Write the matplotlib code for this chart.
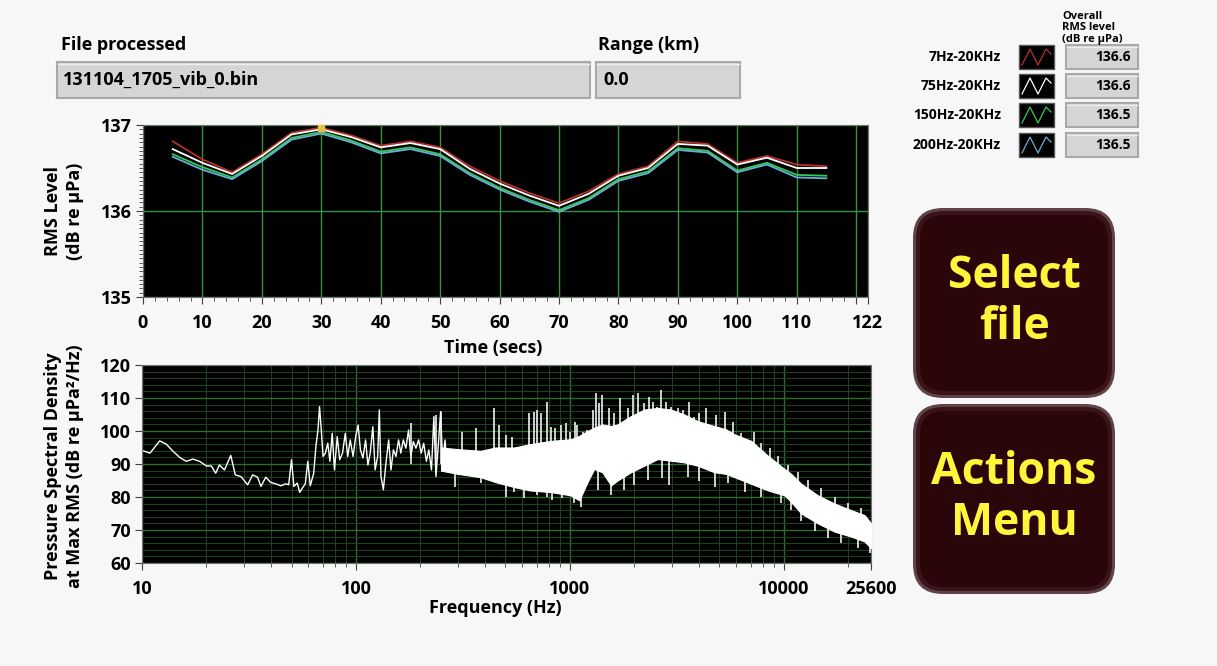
import numpy as np
import matplotlib
matplotlib.use("Agg")
import matplotlib.pyplot as plt
from matplotlib.patches import Rectangle, FancyBboxPatch
from matplotlib.ticker import MultipleLocator, FixedLocator, LogLocator, NullFormatter

plt.rcParams['font.family'] = ['Open Sans', 'DejaVu Sans']
plt.rcParams['font.weight'] = 'bold'

# --- RMS level vs time (top plot) ---
time_s = [5, 10, 15, 20, 25, 30, 35, 40, 45, 50, 55, 60, 65, 70, 75, 80, 85, 90, 95, 100, 105, 110, 115]
rms_7hz = [136.81, 136.60, 136.45, 136.66, 136.91, 136.97, 136.88, 136.76, 136.81, 136.74, 136.52, 136.35,
           136.21, 136.09, 136.23, 136.43, 136.52, 136.81, 136.78, 136.56, 136.64, 136.54, 136.52]
rms_75hz = [136.72, 136.56, 136.43, 136.64, 136.89, 136.95, 136.86, 136.74, 136.79, 136.72, 136.49, 136.32,
            136.18, 136.06, 136.20, 136.41, 136.50, 136.78, 136.76, 136.54, 136.62, 136.50, 136.50]
rms_150hz = [136.66, 136.51, 136.39, 136.60, 136.85, 136.92, 136.82, 136.69, 136.74, 136.66, 136.44, 136.27,
             136.13, 136.01, 136.15, 136.37, 136.46, 136.73, 136.70, 136.47, 136.56, 136.42, 136.41]
rms_200hz = [136.63, 136.48, 136.37, 136.58, 136.83, 136.90, 136.80, 136.67, 136.72, 136.64, 136.42, 136.25,
             136.11, 135.99, 136.13, 136.35, 136.44, 136.71, 136.68, 136.45, 136.54, 136.39, 136.38]

band_names = ['7Hz-20KHz', '75Hz-20KHz', '150Hz-20KHz', '200Hz-20KHz']
overall_rms = [136.6, 136.6, 136.5, 136.5]
band_colors = ['#b8302c', '#ffffff', '#33cc55', '#6aaed6']

# --- PSD at max RMS (bottom plot) ---
# low-frequency trace, read point by point
psd_f = [10.0, 10.9, 12.1, 13.0, 14.0, 15.0, 16.1, 17.3, 18.6, 20.0, 21.1, 22.1, 23.0, 24.3, 26.0, 27.3,
         29.0, 31.2, 32.9, 34.7, 36.0, 37.9, 40.0, 42.1, 44.5, 47.0, 48.5, 50.0, 51.3, 53.2, 54.6, 56.2,
         58.0, 59.6, 61.2, 63.5, 65.0, 66.5, 67.6, 68.9, 70.2, 72.0, 73.9, 75.6, 77.5, 79.4, 81.8, 84.0,
         86.6, 89.2, 91.6, 94.1, 97.0, 99.8, 102.4, 105.0, 107.9, 111.0, 113.8, 116.7, 120.0, 123.0, 126.4,
         128.7, 131.0, 134.4, 138.2, 142.3, 145.9, 149.7, 153.9, 158.3, 162.2, 166.5, 171.3, 176.3, 180.7,
         185.5, 190.8, 196.4, 202.0, 207.5, 213.6, 219.2, 225.6, 231.5, 236.7, 242.6, 249.0, 254.5, 261.0,
         267.5, 275.0]
psd_db = [94.1, 93.3, 97.0, 96.0, 93.8, 92.0, 90.8, 91.5, 90.8, 89.4, 89.4, 87.2, 89.7, 88.2, 92.6, 86.7,
          86.2, 83.7, 86.7, 86.0, 83.2, 86.0, 84.4, 84.0, 83.4, 84.0, 83.7, 91.3, 83.2, 84.2, 81.4, 82.7,
          84.0, 90.8, 83.4, 87.2, 95.3, 100.3, 107.4, 100.3, 92.3, 93.3, 96.3, 90.8, 99.3, 88.2, 98.3, 91.3,
          93.3, 99.3, 92.3, 97.3, 92.3, 98.3, 101.8, 94.3, 91.8, 97.3, 89.7, 93.3, 101.3, 88.2, 92.3,
          106.4, 86.2, 82.2, 90.3, 97.3, 88.2, 94.3, 92.3, 97.3, 93.3, 97.3, 94.8, 100.3, 92.3,
          96.8, 94.8, 97.3, 93.3, 96.3, 90.8, 94.3, 88.2, 104.4, 86.2, 95.3, 105.9, 90.3, 97.3,
          88.2, 94.3]

# dense part of the spectrum: upper / lower edges of the solid white band
band_f = [250, 300, 383, 450, 550, 650, 815, 1010, 1107, 1210, 1300, 1420, 1560, 1670, 1930, 2230, 2575,
          2970, 3430, 3960, 4740, 5380, 5890, 7050, 8440, 10090, 10840, 12080, 14460, 17310, 20710, 23900, 25600]
band_hi = [95.0, 94.5, 94.0, 95.0, 95.0, 96.0, 97.0, 97.5, 98.5, 100.0, 101.0, 102.0, 101.5, 102.0, 104.5,
           106.5, 107.0, 106.5, 105.0, 103.0, 101.5, 100.5, 99.0, 97.0, 92.5, 88.5, 87.0, 84.0, 80.5, 78.0,
           76.0, 74.5, 72.0]
band_lo = [88.0, 87.0, 86.0, 84.5, 83.0, 82.0, 81.5, 80.5, 79.0, 84.5, 88.5, 87.5, 83.5, 85.0, 87.5, 89.5,
           91.5, 91.0, 90.5, 89.5, 87.5, 87.0, 86.0, 84.0, 82.0, 80.5, 78.5, 75.0, 72.0, 69.5, 68.0, 66.5, 64.5]

# isolated peaks above the band
spike_f = [181, 236, 250, 314, 363, 442, 466, 501, 539, 645, 680, 700, 731, 780, 815, 851, 908, 958, 1003,
           1059, 1086, 1159, 1201, 1277, 1324, 1372, 1413, 1529, 1613, 1721, 1863, 1966, 2089, 2229, 2352,
           2439, 2556, 2668, 2816, 2972, 3194, 3372, 3623, 3823, 4035, 4335, 4830, 5320, 5780, 6320, 7300,
           7850, 8590, 9390, 10470, 11650, 12980, 14990, 17310, 19990, 23080]
spike_top = [102.3, 104.8, 105.9, 99.8, 100.8, 106.9, 101.8, 98.8, 98.3, 105.4, 105.9, 106.4, 105.4, 108.9,
             101.3, 100.8, 101.8, 102.3, 99.8, 102.8, 101.8, 99.8, 100.3, 106.4, 111.4, 108.4, 110.9, 106.9,
             105.4, 109.9, 106.9, 110.9, 111.4, 108.4, 110.4, 108.9, 107.4, 112.4, 108.9, 107.4, 106.9, 106.4,
             108.9, 104.3, 105.4, 106.9, 104.8, 105.9, 102.8, 99.3, 99.8, 96.3, 94.8, 92.3, 89.7, 87.7, 85.2,
             82.7, 80.1, 78.1, 76.6]
# dips below the band
dip_f = [292, 383, 501, 549, 611, 706, 785, 828, 921, 1047, 1125, 1350, 1556, 1790, 2000, 2313, 2708,
         2910, 3560, 4035, 4750, 5474, 6560, 7850, 9730, 10840, 12080, 13940, 16100, 18590, 22250, 25220]
dip_bot = [83.1, 84.1, 80.1, 81.6, 79.6, 80.6, 80.1, 79.1, 79.6, 78.1, 77.1, 82.1, 80.6, 82.1, 83.6, 85.2,
           85.7, 83.6, 86.2, 84.7, 83.1, 84.1, 81.6, 80.1, 78.1, 76.1, 72.6, 69.6, 67.6, 66.1, 64.6, 63.1]

W, H = 1217, 666
fig = plt.figure(figsize=(W / 100, H / 100), dpi=100, facecolor='#f7f7f7')

# background axes in pixel coordinates for the panel widgets
bg = fig.add_axes([0, 0, 1, 1])
bg.set_xlim(0, W)
bg.set_ylim(H, 0)
bg.axis('off')


def px_axes(l, t, r, b):
    return fig.add_axes([l / W, 1 - b / H, (r - l) / W, (b - t) / H])


def grey_box(x, y, w, h):
    bg.add_patch(Rectangle((x, y), w, h, fc='#d5d5d5', ec='#a9a9a9', lw=1.5))
    bg.plot([x + 1, x + w - 1], [y + 1.5, y + 1.5], color='#eeeeee', lw=1)


fs_head = 13
fs_tick = 13
fs_title = 13
bg.text(61, 45, 'File processed', fontsize=fs_head, fontweight='bold', va='center')
grey_box(57, 62, 533, 36)
bg.text(63, 80, '131104_1705_vib_0.bin', fontsize=fs_head, fontweight='bold', va='center')
bg.text(598, 45, 'Range (km)', fontsize=fs_head, fontweight='bold', va='center')
grey_box(596, 62, 144, 36)
bg.text(603, 80, '0.0', fontsize=fs_head, fontweight='bold', va='center')

# legend / overall RMS panel
bg.text(1062, 28, 'Overall\nRMS level\n(dB re µPa)', fontsize=8, fontweight='bold', va='center',
        linespacing=1.1)
row_y = [57, 86, 115, 145]
for name, val, col, y in zip(band_names, overall_rms, band_colors, row_y):
    bg.text(1001, y, name, fontsize=10, fontweight='bold', ha='right', va='center')
    bg.add_patch(Rectangle((1019, y - 12), 35, 24, fc='#000000', ec='#555555', lw=1))
    bg.plot([1022, 1030, 1038, 1046, 1051], [y + 8, y - 8, y + 8, y - 8, y - 3], color=col, lw=0.9)
    grey_box(1066, y - 12, 72, 24)
    bg.text(1131, y, f'{val:.1f}', fontsize=10, fontweight='bold', ha='right', va='center')

# buttons
for (top, label) in [(208, 'Select\nfile'), (404, 'Actions\nMenu')]:
    bg.add_patch(FancyBboxPatch((913, top), 202, 190, boxstyle='round,pad=0,rounding_size=30',
                                fc='#5e4446', ec='none'))
    bg.add_patch(FancyBboxPatch((916, top + 3), 196, 184, boxstyle='round,pad=0,rounding_size=27',
                                fc='#3a1418', ec='none'))
    bg.add_patch(FancyBboxPatch((920, top + 7), 188, 176, boxstyle='round,pad=0,rounding_size=24',
                                fc='#2a0509', ec='none'))
    bg.text(1014, top + 94, label, fontsize=32, fontweight='bold', color='#fff53a', ha='center',
            va='center', linespacing=1.2)

# axis titles
bg.text(64, 211, 'RMS Level\n(dB re µPa)', rotation=90, fontsize=fs_title, fontweight='bold',
        ha='center', va='center', linespacing=1.35)
bg.text(493, 348, 'Time (secs)', fontsize=fs_title, fontweight='bold', ha='center', va='center')
bg.text(64, 466, 'Pressure Spectral Density\nat Max RMS (dB re µPa²/Hz)', rotation=90,
        fontsize=fs_title, fontweight='bold', ha='center', va='center', linespacing=1.35)
bg.text(495, 608, 'Frequency (Hz)', fontsize=fs_title, fontweight='bold', ha='center', va='center')

# --- top plot ---
ax1 = px_axes(143, 125, 868, 297)
ax1.set_facecolor('#000000')
ax1.set_xlim(0, 122)
ax1.set_ylim(135, 137)
ax1.set_xticks(list(range(0, 121, 10)) + [122])
ax1.set_xticklabels([str(v) for v in range(0, 111, 10)] + ['', '122'])
ax1.xaxis.set_minor_locator(MultipleLocator(2))
ax1.set_yticks([135, 136, 137])
ax1.yaxis.set_minor_locator(MultipleLocator(0.05))
ax1.grid(True, which='major', color='#3c8f3c', lw=1)
ax1.set_axisbelow(True)
series = [rms_7hz, rms_75hz, rms_150hz, rms_200hz]
for vals, col in zip(series, band_colors):
    ax1.plot(time_s, vals, color=col, lw=1.3)
ax1.plot([30], [rms_7hz[5]], marker='s', ms=4, color='#e8c040', zorder=5)

# --- bottom plot ---
ax2 = px_axes(142, 365, 871, 563)
ax2.set_facecolor('#000000')
ax2.set_xscale('log')
ax2.set_xlim(10, 25600)
ax2.set_ylim(60, 120)
ax2.xaxis.set_major_locator(FixedLocator([10, 100, 1000, 10000, 25600]))
ax2.set_xticklabels(['10', '100', '1000', '10000', '25600'])
ax2.xaxis.set_minor_locator(LogLocator(base=10, subs=np.arange(2, 10), numticks=20))
ax2.xaxis.set_minor_formatter(NullFormatter())
ax2.set_yticks(range(60, 121, 10))
ax2.yaxis.set_minor_locator(MultipleLocator(2))
ax2.grid(True, which='major', color='#2f6a2f', lw=1)
ax2.grid(True, which='minor', color='#1d401d', lw=0.8)
ax2.set_axisbelow(True)
ax2.plot(psd_f, psd_db, color='white', lw=1)
ax2.fill_between(band_f, band_lo, band_hi, color='white', lw=0.8, ec='white', zorder=3)
# spikes start inside the band so they join it
lf = np.log10(band_f)
spike_base = np.interp(np.log10(spike_f), lf, band_lo) + 2
dip_base = np.interp(np.log10(dip_f), lf, band_hi) - 2
ax2.vlines(spike_f, spike_base, spike_top, color='#f2f2f2', lw=1.2, zorder=2)
ax2.vlines(dip_f, dip_bot, dip_base, color='#f2f2f2', lw=1.2, zorder=2)

for ax in (ax1, ax2):
    for sp in ax.spines.values():
        sp.set_color('#707070')
    ax.tick_params(which='major', direction='out', length=5, color='#404040', labelsize=fs_tick)
    ax.tick_params(which='minor', direction='out', length=3, color='#404040')
    ax.tick_params(axis='x', which='major', pad=7)
    ax.tick_params(axis='y', which='major', pad=3)
    for lab in ax.get_xticklabels() + ax.get_yticklabels():
        lab.set_fontweight('bold')
ax2.tick_params(axis='y', which='minor', length=0)

fig.savefig('out.png', dpi=100, facecolor=fig.get_facecolor())
